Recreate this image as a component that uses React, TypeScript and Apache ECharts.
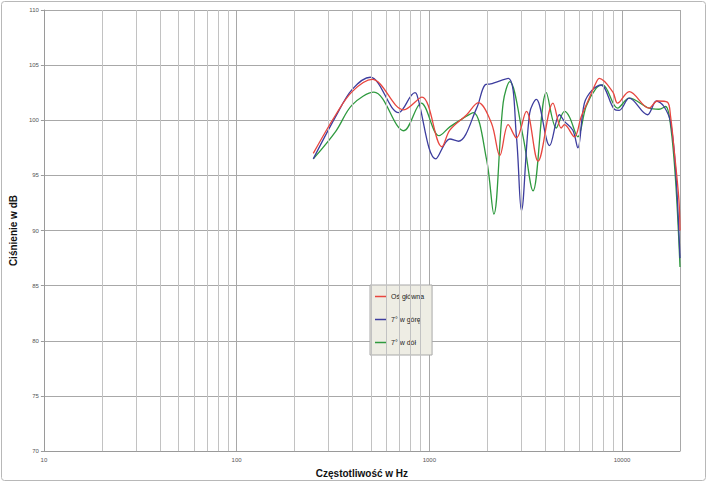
import React, { useEffect, useRef } from "react";
import * as echarts from "echarts";

const seriesNames = ["Oś główna", "7° w górę", "7° w dół"];
const seriesColors = ["#e8463f", "#3d3d9e", "#2f9a3f"];

const mainAxis: [number, number][] = [
  [250, 97.0], [327, 100.5], [398, 102.6], [505, 103.7], [737, 100.95], [916, 102.1],
  [1162, 97.6], [1278, 99.1], [1564, 100.5], [1797, 101.6], [2105, 99.7], [2323, 96.8],
  [2567, 99.6], [2833, 98.4], [3190, 100.8], [3667, 96.3], [4383, 101.55], [4838, 99.3],
  [5030, 99.6], [5665, 98.5], [6135, 100.3], [6643, 101.7], [7333, 103.4], [7625, 103.8],
  [8943, 102.6], [9491, 101.55], [10900, 102.6], [13820, 101.1], [15270, 101.75],
  [17200, 101.65], [17880, 100.3], [18600, 97.5], [19740, 92.8], [20000, 90.0],
];

const up7: [number, number][] = [
  [250, 96.5], [327, 100.35], [398, 102.8], [494, 103.9], [694, 100.7], [843, 102.5],
  [863, 102.3], [1082, 96.5], [1278, 98.3], [1417, 98.1], [1761, 101.1], [1944, 103.2],
  [2080, 103.3], [2567, 103.8], [2833, 98.5], [3007, 91.8], [3318, 100.65], [3593, 101.9],
  [4209, 97.7], [4741, 100.5], [5030, 99.9], [5559, 99.1], [5899, 97.5], [6380, 101.55],
  [7050, 102.8], [7781, 103.2], [9115, 101.0], [9672, 100.9], [10900, 102.0],
  [13560, 100.5], [15090, 101.75], [16510, 101.25], [17880, 99.8], [18980, 95.5],
  [20000, 87.5],
];

const down7: [number, number][] = [
  [250, 96.5], [327, 99.0], [398, 101.4], [516, 102.55], [737, 99.05], [908, 101.55],
  [1125, 98.6], [1278, 99.4], [1504, 100.2], [1693, 100.7], [1984, 96.4], [2163, 91.5],
  [2418, 101.6], [2616, 103.5], [3068, 98.5], [3455, 93.6], [4047, 102.5], [4559, 99.3],
  [5030, 100.8], [5339, 100.3], [5899, 98.5], [6510, 101.25], [7333, 102.9], [7940, 103.2],
  [9491, 101.1], [10900, 102.0], [13820, 101.1], [15560, 101.0], [16850, 101.25],
  [17880, 99.5], [18980, 94.5], [20000, 86.7],
];

const minorFreqs: number[] = [
  20, 30, 40, 50, 60, 70, 80, 90,
  200, 300, 400, 500, 600, 700, 800, 900,
  2000, 3000, 4000, 5000, 6000, 7000, 8000, 9000,
];

const FONT = "'Liberation Sans', Arial, sans-serif";

export default function App() {
  const ref = useRef<HTMLDivElement>(null);
  useEffect(() => {
    if (!ref.current) return;
    const chart = echarts.init(ref.current, undefined, { renderer: "svg" });
    const datasets = [mainAxis, up7, down7];
    chart.setOption({
      animation: false,
      backgroundColor: "#ffffff",
      textStyle: { fontFamily: FONT },
      grid: { left: 40, right: 28, top: 10, bottom: 31, containLabel: false },
      graphic: [
        {
          type: "rect",
          shape: { x: 1.5, y: 1.5, width: 704, height: 479, r: 3 },
          style: { fill: "none", stroke: "#b8b8b8", lineWidth: 1 },
          silent: true,
        },
      ],
      legend: {
        orient: "vertical",
        left: 370,
        top: 285,
        data: seriesNames,
        icon: "rect",
        itemWidth: 11,
        itemHeight: 1.5,
        itemGap: 16,
        padding: [8, 8, 9, 5],
        backgroundColor: "#eeede4",
        borderColor: "#a8a8a8",
        borderWidth: 1,
        textStyle: { fontSize: 7, color: "#222", fontFamily: FONT },
      },
      xAxis: {
        type: "log",
        logBase: 10,
        min: 10,
        max: 20000,
        name: "Częstotliwość w Hz",
        nameLocation: "middle",
        nameGap: 11,
        nameTextStyle: { fontSize: 10, fontWeight: "bold", color: "#111", fontFamily: FONT },
        axisLine: { show: true, lineStyle: { color: "#9a9a9a", width: 1 } },
        axisTick: { show: false },
        axisLabel: {
          fontSize: 6,
          color: "#555",
          margin: 6,
          showMaxLabel: false,
          formatter: (v: number) => String(Math.round(v)),
        },
        splitLine: { show: true, lineStyle: { color: "#a8a8a8", width: 1 } },
      },
      yAxis: {
        type: "value",
        min: 70,
        max: 110,
        interval: 5,
        name: "Ciśnienie w dB",
        nameLocation: "middle",
        nameGap: 17,
        nameTextStyle: { fontSize: 10, fontWeight: "bold", color: "#111", fontFamily: FONT },
        axisLine: { show: true, lineStyle: { color: "#9a9a9a", width: 1 } },
        axisTick: { show: true, length: 3, lineStyle: { color: "#9a9a9a" } },
        axisLabel: { fontSize: 6, color: "#555", margin: 5 },
        splitLine: { show: true, lineStyle: { color: "#a8a8a8", width: 1 } },
      },
      series: [
        {
          name: "grid-minor",
          type: "line",
          data: [[10, 70]],
          symbol: "none",
          lineStyle: { opacity: 0 },
          silent: true,
          z: 1,
          markLine: {
            silent: true,
            symbol: ["none", "none"],
            label: { show: false },
            lineStyle: { color: "#c2c2c2", width: 1, type: "solid" },
            data: minorFreqs.map((f) => ({ xAxis: f })),
          },
        },
        ...datasets.map((d, i) => ({
          name: seriesNames[i],
          type: "line",
          data: d,
          smooth: 0.35,
          symbol: "none",
          z: 3 + (2 - i),
          lineStyle: { color: seriesColors[i], width: 1.3 },
          itemStyle: { color: seriesColors[i] },
        })),
      ],
    });
    return () => chart.dispose();
  }, []);
  return (
    <div
      ref={ref}
      style={{ position: "absolute", left: 0, top: 0, width: 708, height: 483 }}
    />
  );
}
